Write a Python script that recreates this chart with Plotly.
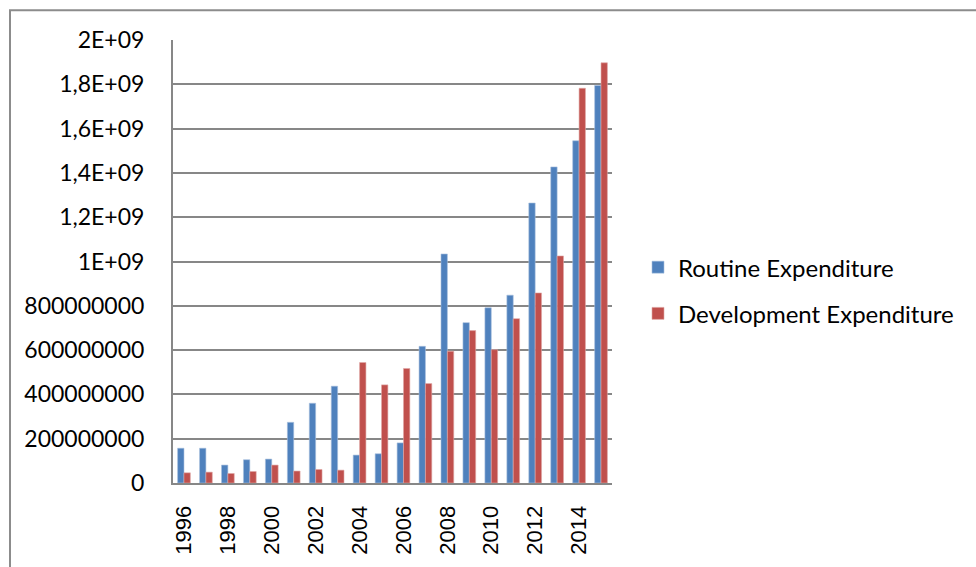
import plotly.graph_objects as go

years = [str(y) for y in range(1996, 2016)]

routine = [157e6, 157e6, 81e6, 105e6, 108e6, 274e6, 360e6, 437e6, 126e6, 132e6,
           181e6, 617e6, 1034e6, 724e6, 791e6, 848e6, 1264e6, 1427e6, 1545e6, 1795e6]
development = [46e6, 49e6, 43e6, 52e6, 81e6, 54e6, 61e6, 58e6, 544e6, 443e6,
               517e6, 449e6, 595e6, 688e6, 602e6, 742e6, 858e6, 1025e6, 1782e6, 1897e6]

y_tick_vals = [0, 2e8, 4e8, 6e8, 8e8, 1e9, 1.2e9, 1.4e9, 1.6e9, 1.8e9, 2e9]
y_tick_text = ["0", "200000000", "400000000", "600000000", "800000000", "1E+09",
               "1,2E+09", "1,4E+09", "1,6E+09", "1,8E+09", "2E+09"]
x_tick_vals = years[::2]

BLUE = "#4F81BD"
RED = "#C0504D"
GRID = "#878787"

# plot-area geometry in pixels
W, H = 976, 567
L, R, T, B = 173, 612, 40, 485

fig = go.Figure()
fig.add_trace(go.Bar(x=years, y=routine, name="Routine Expenditure",
                     marker=dict(color=BLUE, line=dict(color="#A7C0DE", width=0.6)),
                     legendgroup="a"))
fig.add_trace(go.Bar(x=years, y=development, name="Development Expenditure",
                     marker=dict(color=RED, line=dict(color="#DFA8A6", width=0.6)),
                     legendgroup="b"))

pw, ph = R - L, B - T


def px_x(p):
    return (p - L) / pw


def px_y(p):
    return (B - p) / ph


# outer chart border
fig.add_shape(type="rect", xref="paper", yref="paper",
              x0=px_x(10), x1=px_x(W + 20), y0=px_y(10), y1=px_y(H + 20),
              line=dict(color="#8C8C8C", width=2), fillcolor="rgba(0,0,0,0)",
              layer="below")

fig.update_layout(
    width=W, height=H,
    margin=dict(l=L, r=W - R, t=T, b=H - B),
    paper_bgcolor="white", plot_bgcolor="white",
    barmode="group", bargap=0.42, bargroupgap=0.0,
    font=dict(family="Lato, Open Sans, sans-serif", color="#000000"),
    showlegend=True,
    legend=dict(x=px_x(638), y=px_y(246), xanchor="left", yanchor="top",
                font=dict(size=24, family="Lato, Open Sans, sans-serif"),
                tracegroupgap=12, bgcolor="rgba(0,0,0,0)"),
    xaxis=dict(type="category", tickmode="array", tickvals=x_tick_vals,
               ticktext=x_tick_vals, tickangle=-90, showgrid=False,
               showline=True, linecolor=GRID, linewidth=2, ticks="",
               ticklabelstandoff=12,
               tickfont=dict(family="Liberation Sans, Arial, sans-serif", size=22),
               range=[-0.5, 19.5]),
    yaxis=dict(range=[0, 2e9], tickmode="array", tickvals=y_tick_vals,
               ticktext=y_tick_text, showgrid=True, gridcolor=GRID, gridwidth=2,
               showline=True, linecolor=GRID, linewidth=2, zeroline=False,
               ticks="", ticklabelstandoff=22,
               tickfont=dict(family="Lato, Open Sans, sans-serif", size=23)),
)

fig.write_html("out.html")
